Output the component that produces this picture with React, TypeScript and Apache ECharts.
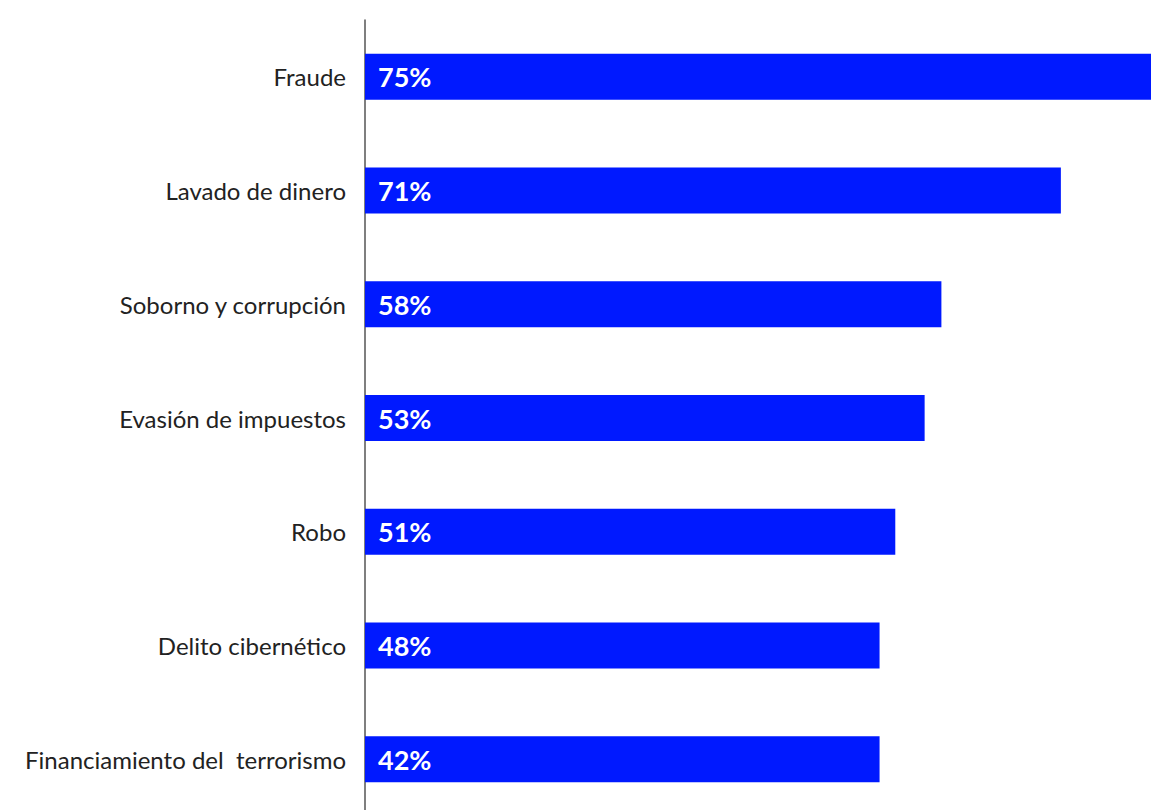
import React, { useEffect, useRef } from "react";
import * as echarts from "echarts";

const categories = [
  "Fraude",
  "Lavado de dinero",
  "Soborno y corrupción",
  "Evasión de impuestos",
  "Robo",
  "Delito cibernético",
  "Financiamiento del  terrorismo",
];
// printed percentages
const labelValues = [75, 71, 58, 53, 51, 48, 42];
// bar lengths as drawn in the picture (same percentage scale)
const barValues = [75, 66.4, 55, 53.4, 50.6, 49.1, 49.1];

export default function App() {
  const ref = useRef<HTMLDivElement>(null);
  useEffect(() => {
    if (!ref.current) return;
    const chart = echarts.init(ref.current, null, { renderer: "svg" });
    chart.setOption({
      animation: false,
      grid: { left: 365, right: 0, top: 20, height: 796, outerBoundsMode: "none" },
      xAxis: {
        type: "value",
        min: 0,
        max: 75,
        show: false,
      },
      yAxis: {
        type: "category",
        data: categories,
        inverse: true,
        axisLine: { show: true, lineStyle: { color: "#555", width: 1.5 } },
        axisTick: { show: false },
        axisLabel: {
          margin: 19,
          fontSize: 24,
          color: "#222",
          fontFamily: "Lato",
        },
        splitLine: { show: false },
      },
      series: [
        {
          type: "bar",
          data: barValues,
          barWidth: 46,
          itemStyle: { color: "#0019FF" },
          label: {
            show: true,
            position: "insideLeft",
            distance: 13,
            color: "#fff",
            fontSize: 27,
            fontWeight: "bold",
            fontFamily: "Lato",
            formatter: (p: any) => labelValues[p.dataIndex] + "%",
          },
        },
      ],
    });
    return () => chart.dispose();
  }, []);
  return (
    <div
      ref={ref}
      style={{ position: "fixed", left: 0, top: 0, width: 1151, height: 810, background: "#fff" }}
    />
  );
}
